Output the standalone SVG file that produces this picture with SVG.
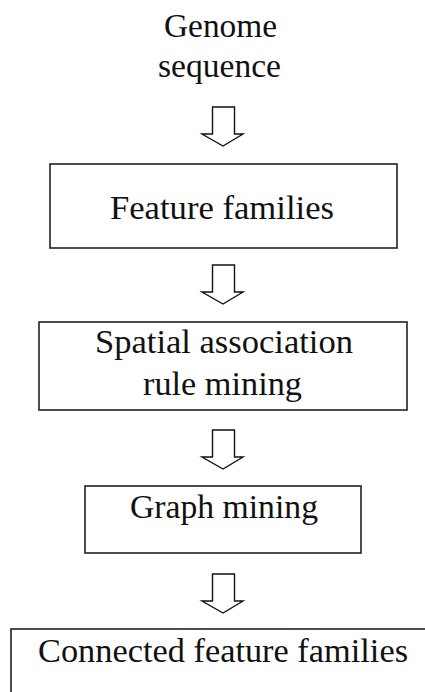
<svg xmlns="http://www.w3.org/2000/svg" xmlns:xlink="http://www.w3.org/1999/xlink" width="425" height="692" viewBox="0 0 425 692">
<style>
  .box { fill: #fff; stroke: #222; stroke-width: 1.6; }
  .arrow { fill: #fff; stroke: #111; stroke-width: 1.4; stroke-linejoin: miter; }
  .t { font-family: 'Liberation Serif', 'Times New Roman', serif; font-size: 34px; fill: #111; }
</style>
<defs>
  <path id="downArrow" class="arrow" d="M212.5,0 H234.5 V27 H243 L223,39 L202,27 H212.5 Z"/>
</defs>
<rect width="425" height="692" fill="#fff"/>
<g id="connectors">
  <use xlink:href="#downArrow" transform="translate(0,107)"/>
  <use xlink:href="#downArrow" transform="translate(0,265)"/>
  <use xlink:href="#downArrow" transform="translate(0,430)"/>
  <use xlink:href="#downArrow" transform="translate(0,574)"/>
</g>
<g id="genome">
  <text class="t" x="164" y="37" textLength="113" lengthAdjust="spacingAndGlyphs">Genome</text>
  <text class="t" x="158" y="77" textLength="123" lengthAdjust="spacingAndGlyphs">sequence</text>
</g>
<g id="feature-families">
  <rect class="box" x="50" y="164" width="347" height="84"/>
  <text class="t" x="110" y="219" textLength="224" lengthAdjust="spacingAndGlyphs">Feature families</text>
</g>
<g id="spatial-association">
  <rect class="box" x="39" y="322" width="368" height="88"/>
  <text class="t" x="95" y="353" textLength="258" lengthAdjust="spacingAndGlyphs">Spatial association</text>
  <text class="t" x="143" y="395" textLength="159" lengthAdjust="spacingAndGlyphs">rule mining</text>
</g>
<g id="graph-mining">
  <rect class="box" x="85" y="486" width="276" height="67"/>
  <text class="t" x="130" y="518" textLength="188" lengthAdjust="spacingAndGlyphs">Graph mining</text>
</g>
<g id="connected-feature-families">
  <rect class="box" x="11" y="629" width="430" height="80"/>
  <text class="t" x="38" y="662" textLength="370" lengthAdjust="spacingAndGlyphs">Connected feature families</text>
</g>
</svg>
